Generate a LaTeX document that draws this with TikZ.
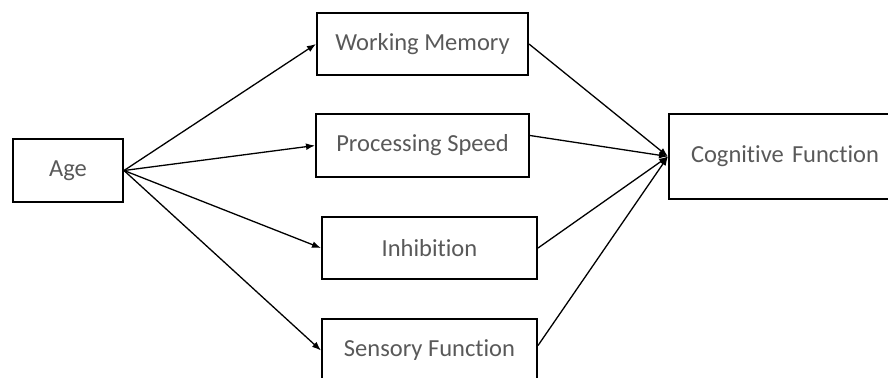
\documentclass[tikz,border=0pt]{standalone}
\usepackage{fontspec}
\setmainfont[Ligatures=NoCommon]{Carlito}
\usetikzlibrary{arrows.meta}
\definecolor{txtgray}{RGB}{89,89,89}
\tikzset{varbox/.style={draw,line width=1pt,text=txtgray,font=\fontsize{12.25}{14}\selectfont,inner sep=0pt}}

\begin{document}
\begin{tikzpicture}[x=.5pt,y=-.5pt,>={Latex[length=4.5pt,width=3.4pt]}]
\clip (0,0) rectangle (888,377);
\node[varbox,minimum width=55pt,minimum height=31.5pt] (age) at (68,170.5){Age};
\node[varbox,minimum width=105.5pt,minimum height=31pt] (wm) at (422.5,44){Working Memory};
\node[varbox,minimum width=106.5pt,minimum height=31.5pt] (ps) at (422.5,145.5){Processing Speed};
\node[varbox,minimum width=107.5pt,minimum height=31pt] (inh) at (429.5,248){Inhibition};
\node[varbox,minimum width=107.5pt,minimum height=31.5pt] (sens) at (429.5,350.5){Sensory Function};
\node[varbox,anchor=west,inner xsep=11pt,text width=118pt,align=left,minimum height=42.5pt] (cog) at (668,156.5){Cognitive Function};
% age to the four mediators
\foreach \m in {wm,ps,inh,sens}{\draw[line width=.65pt,->] (age.east)--(\m.west);}
% mediators to cognitive function
\draw[line width=.65pt,->] (wm.east)--(cog.west);
\draw[line width=.65pt,->] ([yshift=5pt]ps.east)--(cog.west);
\draw[line width=.65pt,->] (inh.east)--(cog.west);
\draw[line width=.65pt,->] ([yshift=2.5pt]sens.east)--(cog.west);
\end{tikzpicture}
\end{document}
